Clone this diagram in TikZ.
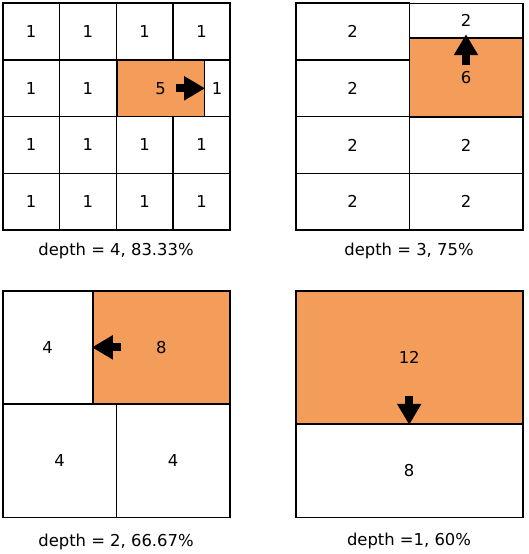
\documentclass[tikz,border=0pt]{standalone}
\usepackage{fontspec}
\setmainfont{DejaVu Sans}
\usetikzlibrary{positioning,arrows.meta}
\definecolor{hotorange}{RGB}{244,157,90}
\newcommand{\numfont}{\fontsize{16.4}{19}\selectfont}

\begin{document}
\begin{tikzpicture}[
  x=1pt, y=-1pt,
  cell/.style={rectangle, draw, line width=1.6pt, inner sep=0pt, font=\numfont,
               minimum width=56.8pt, minimum height=56.7pt},
  hot/.style={cell, fill=hotorange},
  move/.style={-{Triangle[length=21pt,width=23pt]}, line width=8pt},
  caption/.style={font=\numfont, anchor=base}
]
\useasboundingbox (0,0) rectangle (529,554);

% depth = 4
\foreach \c/\x in {1/31.1, 2/87.9, 3/144.7, 4/201.5}{
  \node[cell] (a1\c) at (\x,31.6) {1};
  \node[cell] (a3\c) at (\x,145.0) {1};
  \node[cell] (a4\c) at (\x,201.7) {1};
}
\node[cell] (a21) at (31.1,88.3) {1};
\node[cell] (a22) at (87.9,88.3) {1};
\node[hot, minimum width=87.6pt] (a23) at (160.5,88.3) {5};
\node[cell, minimum width=25.7pt] (a24) at (217.2,88.3) {1};
\coordinate[left=29pt of a23.east] (m4);
\draw[move] (m4) -- (a23.east);
\node[caption] (cap4) at (116,255.3) {depth = 4, 83.33\%};

% depth = 3
\foreach \r/\y in {1/31.6, 2/88.3, 3/145.0, 4/201.7}
  \node[cell, minimum width=113.6pt] (b\r1) at (352.5,\y) {2};
\node[cell, minimum width=113.4pt, minimum height=34.4pt] (b12) at (466,20.5) {2};
\node[hot, minimum width=113.4pt, minimum height=79pt] (b22) at (466,77.2) {6};
\node[cell, minimum width=113.4pt] (b32) at (466,145.0) {2};
\node[cell, minimum width=113.4pt] (b42) at (466,201.7) {2};
\coordinate[below=28pt of b22.north] (m3);
\draw[move] (m3) -- ([yshift=2.7pt]b22.north);
\node[caption] (cap3) at (409,255.3) {depth = 3, 75\%};

% depth = 2
\node[cell, minimum width=90pt, minimum height=113.3pt] (c11) at (47.7,347.35) {4};
\node[hot, minimum width=137.3pt, minimum height=113.3pt] (c12) at (161.35,347.35) {8};
\node[cell, minimum width=113.6pt, minimum height=113.3pt] (c21) at (59.5,460.65) {4};
\node[cell, minimum width=113.6pt, minimum height=113.3pt] (c22) at (173.2,460.65) {4};
\coordinate[right=29pt of c12.west] (m2);
\draw[move] (m2) -- (c12.west);
\node[caption] (cap2) at (116,546) {depth = 2, 66.67\%};

% depth = 1
\node[hot, minimum width=227pt, minimum height=133.3pt] (d1) at (409.2,357.35) {12};
\node[cell, minimum width=227pt, minimum height=93.3pt] (d2) at (409.2,470.65) {8};
\coordinate[above=29pt of d1.south] (m1);
\draw[move] (m1) -- (d1.south);
\node[caption] (cap1) at (409,545.5) {depth =1, 60\%};
\end{tikzpicture}
\end{document}
